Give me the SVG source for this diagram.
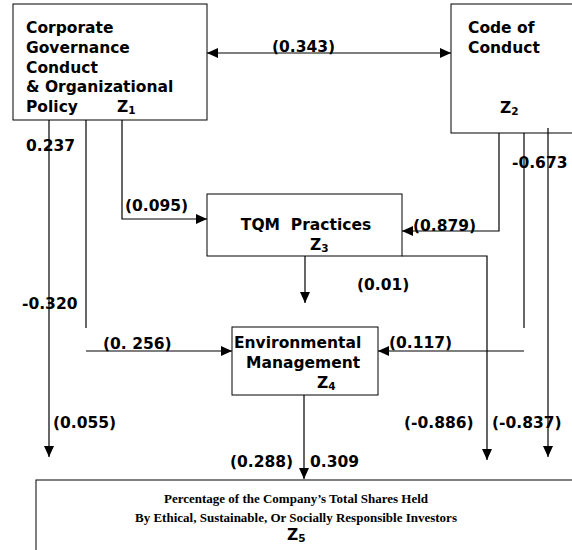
<svg xmlns="http://www.w3.org/2000/svg" width="572" height="550" viewBox="0 0 572 550">
<defs>
<marker id="ah" markerUnits="userSpaceOnUse" markerWidth="12" markerHeight="10" refX="11" refY="5" orient="auto-start-reverse">
<path d="M0,0 L11,5 L0,10 Z" fill="#000"/>
</marker>
<style>
.box{fill:#fff;stroke:#000;stroke-width:1}
.c{fill:none;stroke:#000;stroke-width:1.2}
.t{font-family:"DejaVu Sans","Verdana",sans-serif;font-weight:bold;font-size:15.5px;fill:#000}
.s{font-size:10.5px}
.tm{font-family:"Liberation Serif","Times New Roman",serif;font-weight:bold;font-size:13px;fill:#000}
</style>
</defs>
<rect width="572" height="550" fill="#fff"/>
<g id="z1">
<rect class="box" x="13" y="4" width="194" height="116"/>
<text class="t" x="26" y="33">Corporate</text>
<text class="t" x="26" y="53">Governance</text>
<text class="t" x="26" y="73">Conduct</text>
<text class="t" x="26" y="92">&amp; Organizational</text>
<text class="t" x="26" y="112">Policy</text>
<text class="t" x="117" y="112">Z<tspan class="s" dy="2">1</tspan></text>
</g>
<g id="z2">
<rect class="box" x="451" y="4" width="130" height="129"/>
<text class="t" x="468" y="33">Code of</text>
<text class="t" x="468" y="53">Conduct</text>
<text class="t" x="500" y="113">Z<tspan class="s" dy="2">2</tspan></text>
</g>
<g id="z3">
<rect class="box" x="207" y="194" width="195" height="62"/>
<text class="t" x="306" y="230" text-anchor="middle" xml:space="preserve">TQM  Practices</text>
<text class="t" x="310" y="250">Z<tspan class="s" dy="2">3</tspan></text>
</g>
<g id="z4">
<rect class="box" x="232" y="327" width="146" height="68"/>
<text class="t" x="234" y="348">Environmental</text>
<text class="t" x="246" y="368">Management</text>
<text class="t" x="317" y="388">Z<tspan class="s" dy="2">4</tspan></text>
</g>
<g id="z5">
<rect class="box" x="36" y="480" width="545" height="80"/>
<text class="tm" x="296" y="503" text-anchor="middle">Percentage of the Company’s Total Shares Held</text>
<text class="tm" x="296" y="522" text-anchor="middle">By Ethical, Sustainable, Or Socially Responsible Investors</text>
<text class="t" x="287" y="540">Z<tspan class="s" dy="2">5</tspan></text>
</g>
<g id="connectors">
<path class="c" d="M207,53 H451" marker-start="url(#ah)" marker-end="url(#ah)"/>
<path class="c" d="M122,120 V219 H207" marker-end="url(#ah)"/>
<path class="c" d="M49,120 V457" marker-end="url(#ah)"/>
<path class="c" d="M86,120 V328"/>
<path class="c" d="M86,351 H232" marker-end="url(#ah)"/>
<path class="c" d="M499,133 V231 H402" marker-end="url(#ah)"/>
<path class="c" d="M524,133 V328"/>
<path class="c" d="M524,351 H378" marker-end="url(#ah)"/>
<path class="c" d="M548,128 V457" marker-end="url(#ah)"/>
<path class="c" d="M305,256 V303" marker-end="url(#ah)"/>
<path class="c" d="M402,256 H487 V460" marker-end="url(#ah)"/>
<path class="c" d="M304,395 V479" marker-end="url(#ah)"/>
</g>
<g id="labels">
<text class="t" x="272" y="52">(0.343)</text>
<text class="t" x="26" y="151">0.237</text>
<text class="t" x="512" y="168">-0.673</text>
<text class="t" x="125" y="211">(0.095)</text>
<text class="t" x="413" y="231">(0.879)</text>
<text class="t" x="357" y="290">(0.01)</text>
<text class="t" x="22" y="309">-0.320</text>
<text class="t" x="103" y="349">(0. 256)</text>
<text class="t" x="389" y="348">(0.117)</text>
<text class="t" x="53" y="428">(0.055)</text>
<text class="t" x="404" y="428">(-0.886)</text>
<text class="t" x="492" y="428">(-0.837)</text>
<text class="t" x="230" y="467">(0.288)</text>
<text class="t" x="310" y="467">0.309</text>
</g>
</svg>
